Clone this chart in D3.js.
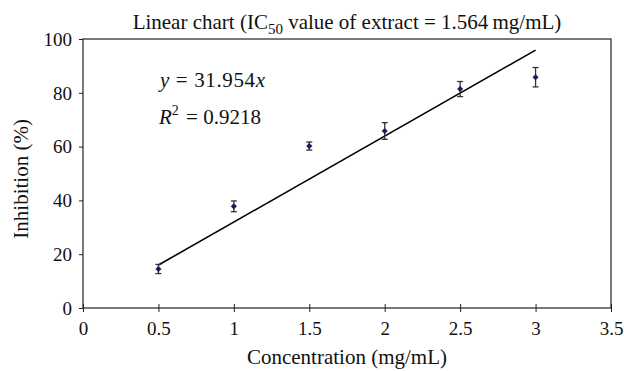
<!DOCTYPE html>
<html>
<head>
<meta charset="utf-8">
<script src="https://cdn.jsdelivr.net/npm/d3@7"></script>
<style>
  body { margin: 0; background: #fff; }
  text { font-family: "Liberation Serif", "DejaVu Serif", serif; fill: #111; }
</style>
</head>
<body>
<script>
// data
var concentration = [0.5, 1, 1.5, 2, 2.5, 3];
var inhibition = [14.5, 37.8, 60.2, 65.8, 81.4, 85.8];
var errors = [1.7, 2.0, 1.5, 3.1, 2.8, 3.6];
var slope = 31.954;
var xTicks = [0, 0.5, 1, 1.5, 2, 2.5, 3, 3.5];
var yTicks = [0, 20, 40, 60, 80, 100];

var width = 624;
var height = 371;
var margin = {left: 83, right: 13, top: 39, bottom: 63};

var svg = d3.select("body")
  .append("svg")
  .attr("width", width)
  .attr("height", height);

var xScale = d3.scaleLinear()
  .domain([0, 3.5])
  .range([margin.left, width - margin.right]);

var yScale = d3.scaleLinear()
  .domain([0, 100])
  .range([height - margin.bottom, margin.top]);

// frame round the plot
svg.append("rect")
  .attr("x", xScale(0))
  .attr("y", yScale(100))
  .attr("width", xScale(3.5) - xScale(0))
  .attr("height", yScale(0) - yScale(100))
  .attr("fill", "none")
  .attr("stroke", "#222")
  .attr("stroke-width", 1.2);

// axes
var xAxis = d3.axisBottom(xScale).tickValues(xTicks).tickSize(4).tickSizeOuter(0)
  .tickFormat(function(d) { return d; });
var gx = svg.append("g")
  .attr("transform", "translate(0," + yScale(0) + ")")
  .call(xAxis);
gx.select(".domain").remove();
gx.selectAll("line").attr("stroke", "#222").attr("y1", -4);
gx.selectAll("text").attr("font-size", 19).attr("dy", 0).attr("y", 27);

var yAxis = d3.axisLeft(yScale).tickValues(yTicks).tickSize(4).tickSizeOuter(0);
var gy = svg.append("g")
  .attr("transform", "translate(" + xScale(0) + ",0)")
  .call(yAxis);
gy.select(".domain").remove();
gy.selectAll("line").attr("stroke", "#222");
gy.selectAll("text").attr("font-size", 19).attr("x", -11).attr("dy", "0.33em");

// trend line
svg.append("line")
  .attr("x1", xScale(concentration[0]))
  .attr("y1", yScale(slope * concentration[0]))
  .attr("x2", xScale(concentration[concentration.length - 1]))
  .attr("y2", yScale(slope * concentration[concentration.length - 1]))
  .attr("stroke", "#000")
  .attr("stroke-width", 1.6);

// error bars
var pts = concentration.map(function(c, i) {
  return {x: c, y: inhibition[i], e: errors[i]};
});

var bars = svg.selectAll(".err")
  .data(pts)
  .enter()
  .append("g")
  .attr("class", "err")
  .attr("stroke", "#333")
  .attr("stroke-width", 1.3);

bars.append("line")
  .attr("x1", function(d) { return xScale(d.x); })
  .attr("x2", function(d) { return xScale(d.x); })
  .attr("y1", function(d) { return yScale(d.y - d.e); })
  .attr("y2", function(d) { return yScale(d.y + d.e); });
[-1, 1].forEach(function(s) {
  bars.append("line")
    .attr("x1", function(d) { return xScale(d.x) - 3; })
    .attr("x2", function(d) { return xScale(d.x) + 3; })
    .attr("y1", function(d) { return yScale(d.y + s * d.e); })
    .attr("y2", function(d) { return yScale(d.y + s * d.e); });
});

// diamond markers
svg.selectAll(".pt")
  .data(pts)
  .enter()
  .append("path")
  .attr("class", "pt")
  .attr("d", d3.symbol().type(d3.symbolDiamond2).size(24))
  .attr("transform", function(d) { return "translate(" + xScale(d.x) + "," + yScale(d.y) + ")"; })
  .attr("fill", "#1b1b5e");

// title
var title = svg.append("text")
  .attr("x", 347)
  .attr("y", 29)
  .attr("text-anchor", "middle")
  .attr("font-size", 21);
title.append("tspan").text("Linear chart (IC");
title.append("tspan").attr("font-size", 15).attr("dy", 5).text("50");
title.append("tspan").attr("dy", -5).text(" value of extract = 1.564\u2009mg/mL)");

// equation and R squared
var eq = svg.append("text")
  .attr("x", 160)
  .attr("y", 87)
  .attr("font-size", 21)
  .attr("textLength", 105)
  .attr("lengthAdjust", "spacing");
eq.append("tspan").attr("font-style", "italic").text("y");
eq.append("tspan").text(" = " + slope);
eq.append("tspan").attr("font-style", "italic").text("x");

var r2 = svg.append("text")
  .attr("x", 159)
  .attr("y", 124)
  .attr("font-size", 21);
r2.append("tspan").attr("font-style", "italic").text("R");
r2.append("tspan").attr("font-size", 14).attr("dy", -9).text("2");
r2.append("tspan").attr("dy", 9).attr("dx", 2).text(" = 0.9218");

// axis titles
svg.append("text")
  .attr("x", xScale(1.75))
  .attr("y", 364)
  .attr("text-anchor", "middle")
  .attr("font-size", 21)
  .text("Concentration (mg/mL)");

svg.append("text")
  .attr("text-anchor", "middle")
  .attr("transform", "translate(" + 28 + "," + yScale(48) + ") rotate(-90)")
  .attr("font-size", 21)
  .text("Inhibition (%)");
</script>
</body>
</html>
